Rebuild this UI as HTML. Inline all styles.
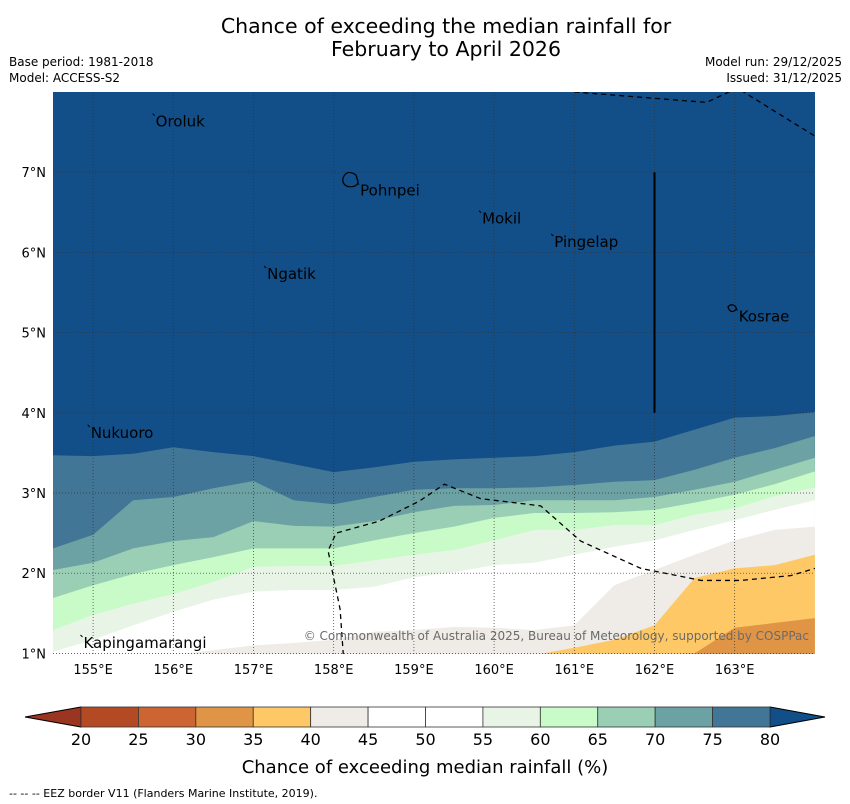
<!DOCTYPE html>
<html><head><meta charset="utf-8">
<style>
body{margin:0;background:#fff;}
svg{display:block;font-family:"DejaVu Sans","Liberation Sans",sans-serif;}
</style></head>
<body>
<svg id="chart" width="850" height="804" viewBox="0 0 850 804" xmlns="http://www.w3.org/2000/svg">
<text x="446" y="33" font-size="20.5" text-anchor="middle">Chance of exceeding the median rainfall for</text>
<text x="446" y="56" font-size="20.5" text-anchor="middle">February to April 2026</text>
<text x="9" y="66" font-size="12">Base period: 1981-2018</text>
<text x="9" y="82" font-size="12">Model: ACCESS-S2</text>
<text x="842" y="66" font-size="12" text-anchor="end">Model run: 29/12/2025</text>
<text x="842" y="82" font-size="12" text-anchor="end">Issued: 31/12/2025</text>
<defs><clipPath id="mapclip"><rect x="53" y="92" width="762" height="562"/></clipPath></defs>
<g id="map" clip-path="url(#mapclip)"></g>
<g id="cbar"></g>
<text x="425" y="773" font-size="18" text-anchor="middle">Chance of exceeding median rainfall (%)</text>
<text x="9" y="797" font-size="11">--  --  -- EEZ border V11 (Flanders Marine Institute, 2019).</text>
</svg>
<script>
const lons = [154.5,155,155.5,156,156.5,157,157.5,158,158.5,159,159.5,160,160.5,161,161.5,162,162.5,163,163.5,164];
const levels = [80,75,70,65,60,55,45,40,35];
const b80 = [3.47,3.46,3.49,3.57,3.51,3.46,3.36,3.26,3.32,3.39,3.42,3.44,3.46,3.51,3.59,3.64,3.79,3.94,3.96,4.01];
const b75 = [2.31,2.48,2.91,2.95,3.06,3.15,2.91,2.86,2.95,3.04,3.06,3.06,3.07,3.10,3.14,3.16,3.29,3.44,3.56,3.71];
const b70 = [2.04,2.13,2.31,2.40,2.45,2.65,2.59,2.58,2.65,2.76,2.84,2.85,2.91,2.91,2.91,2.95,3.04,3.14,3.29,3.44];
const b65 = [1.69,1.85,1.99,2.10,2.20,2.31,2.31,2.31,2.41,2.50,2.58,2.69,2.75,2.75,2.76,2.79,2.88,2.98,3.11,3.27];
const b60 = [1.29,1.48,1.62,1.74,1.89,2.08,2.09,2.09,2.16,2.23,2.29,2.41,2.54,2.54,2.60,2.60,2.73,2.81,2.96,3.07];
const b55 = [1.02,1.17,1.35,1.52,1.67,1.77,1.79,1.79,1.83,1.95,2.01,2.10,2.13,2.23,2.33,2.41,2.54,2.66,2.79,2.91];
const b45 = [0.98,0.98,0.98,0.98,1.04,1.10,1.13,1.17,1.27,1.29,1.33,1.32,1.29,1.35,1.85,2.04,2.23,2.41,2.54,2.58];
const b40 = [0.98,0.98,0.98,0.98,0.98,0.98,0.98,0.98,0.98,0.98,0.98,0.98,0.98,1.07,1.17,1.35,1.94,2.06,2.10,2.23];
const b35 = [0.98,0.98,0.98,0.98,0.98,0.98,0.98,0.98,0.98,0.98,0.98,0.98,0.98,0.98,0.98,0.98,1.00,1.32,1.38,1.44];
const lonTicks = [155,156,157,158,159,160,161,162,163];
const latTicks = [1,2,3,4,5,6,7];
const cbTicks = [20,25,30,35,40,45,50,55,60,65,70,75,80];
const places = [["Oroluk",155.78,7.63],["Pohnpei",158.33,6.77],["Mokil",159.85,6.42],["Pingelap",160.75,6.13],["Ngatik",157.17,5.73],["Kosrae",163.05,5.2],["Nukuoro",154.97,3.75],["Kapingamarangi",154.88,1.13]];
const eezLower = [[158.12,0.98],[158.08,1.55],[157.93,2.28],[158.03,2.5],[158.57,2.65],[159.07,2.9],[159.38,3.11],[159.83,2.93],[160.58,2.84],[161.08,2.4],[161.83,2.06],[162.58,1.91],[163.08,1.91],[163.7,1.97],[164.0,2.06]];
const eezUpper = [[161.0,8.0],[162.65,7.87],[163.03,8.05],[164.0,7.45]];

const svg = document.getElementById('chart');
const NS = 'http://www.w3.org/2000/svg';
const X = lon => 53 + (lon - 154.5) * 80.2;
const Y = lat => 92 + (8 - lat) * 80.2;
const colors = {80:'#124e87',75:'#417696',70:'#6ca2a3',65:'#9acfb6',60:'#c8fbc8',55:'#e8f5e6',45:'#ffffff',40:'#efebe6',35:'#fec866'};
const cbColors = ['#b34a24','#cd6533','#e09546','#fec866','#efebe6','#ffffff','#ffffff','#e8f5e6','#c8fbc8','#9acfb6','#6ca2a3','#417696'];
function mk(tag, attrs, parent){const e=document.createElementNS(NS,tag);for(const k in attrs)e.setAttribute(k,attrs[k]);parent.appendChild(e);return e;}
const map = document.getElementById('map');
const bg = mk('rect',{x:53,y:92,width:762,height:562,fill:colors[80]},map);


const bounds = [[b80,75],[b75,70],[b70,65],[b65,60],[b60,55],[b55,45],[b45,40],[b40,35],[b35,30]];
const fillBelow = {75:colors[75],70:colors[70],65:colors[65],60:colors[60],55:colors[55],45:'#ffffff',40:colors[40],35:colors[35],30:'#e09546'};
bounds.forEach(([arr,lvl])=>{
  let d = 'M'+X(lons[0])+','+Y(arr[0]);
  for(let i=1;i<lons.length;i++) d+=' L'+X(lons[i])+','+Y(arr[i]);
  d += ' L'+X(lons[lons.length-1])+',700 L'+X(lons[0])+',700 Z';
  const p = mk('path',{d:d,fill:fillBelow[lvl],stroke:'none'},map);
  
  
});
lonTicks.forEach(l=>{const g=mk('line',{x1:X(l),x2:X(l),y1:92,y2:654,stroke:'#333',"stroke-width":0.7,"stroke-dasharray":'1,2'},map);

});
latTicks.forEach(l=>{const g=mk('line',{x1:53,x2:815,y1:Y(l),y2:Y(l),stroke:'#333',"stroke-width":0.7,"stroke-dasharray":'1,2'},map);

});
[eezLower,eezUpper].forEach((pts,i)=>{
  const p=mk('polyline',{points:pts.map(q=>X(q[0])+','+Y(q[1])).join(' '),fill:'none',stroke:'#000',"stroke-width":1.3,"stroke-dasharray":'5,4'},map);
  
  
});
const vl=mk('line',{x1:X(162),x2:X(162),y1:Y(7),y2:Y(4),stroke:'#000',"stroke-width":2},map);


const pi=mk('path',{d:'M344,176 q3,-5 8,-3 q5,1 5,6 q3,4 -2,7 q-6,2 -10,-1 q-4,-4 -1,-9z',fill:'none',stroke:'#000',"stroke-width":1.2},map);


const ki=mk('path',{d:'M728,307 q3,-4 7,-1 q3,3 -1,5 q-4,2 -6,-4z',fill:'none',stroke:'#000',"stroke-width":1.2},map);


places.forEach(pl=>{
  const t=mk('text',{x:X(pl[1]),y:Y(pl[2])+5,"font-size":15,fill:'#000'},map);
  t.textContent=pl[0];
  
  
  const m=mk('line',{x1:X(pl[1])-3,y1:Y(pl[2])-8,x2:X(pl[1])-1,y2:Y(pl[2])-6,stroke:'#000',"stroke-width":1},map);
  
  
});
const cp=mk('text',{x:809,y:640,"font-size":12,fill:'#6a6a6a',"text-anchor":'end'},map);
cp.textContent='© Commonwealth of Australia 2025, Bureau of Meteorology, supported by COSPPac';


lonTicks.forEach(l=>{const t=mk('text',{x:X(l),y:674,"font-size":13,"text-anchor":'middle'},svg);t.textContent=l+'°E';

});
latTicks.forEach(l=>{const t=mk('text',{x:46,y:Y(l)+5,"font-size":13,"text-anchor":'end'},svg);t.textContent=l+'°N';

});
const cb=document.getElementById('cbar');
const CX = v => 81 + (v-20)*(770-81)/60;
const tl=mk('polygon',{points:'25,717 81,707 81,727',fill:'#9a3522',stroke:'#000',"stroke-width":1},cb);


const tr=mk('polygon',{points:'825,717 770,707 770,727',fill:colors[80],stroke:'#000',"stroke-width":1},cb);


cbColors.forEach((c,i)=>{const r=mk('rect',{x:CX(cbTicks[i]),y:707,width:CX(cbTicks[i+1])-CX(cbTicks[i]),height:20,fill:c,stroke:'#333',"stroke-width":0.8},cb);

});
cbTicks.forEach(v=>{const t=mk('text',{x:CX(v),y:745,"font-size":16,"text-anchor":'middle'},cb);t.textContent=v;

});
</script>
</body></html>
